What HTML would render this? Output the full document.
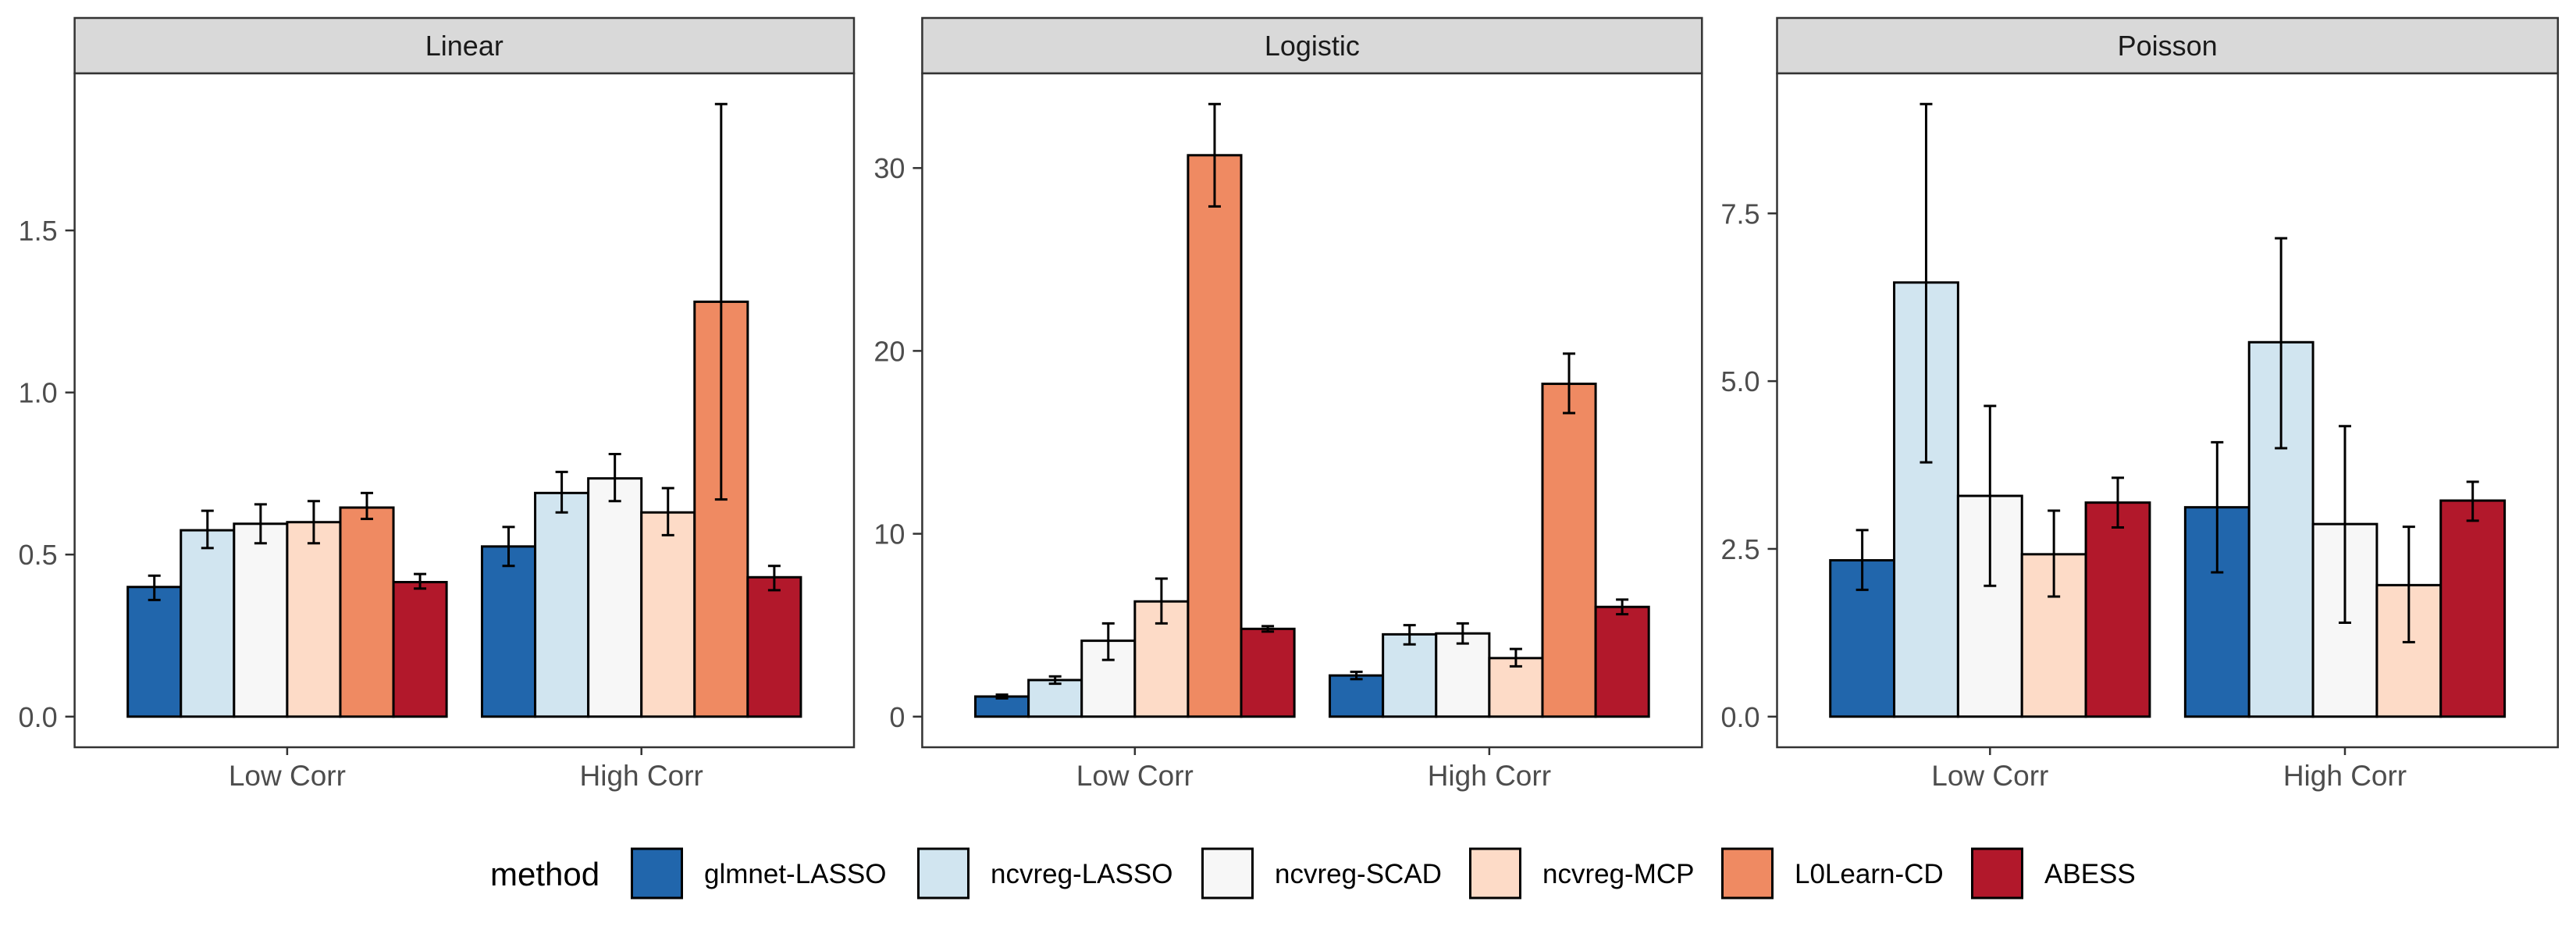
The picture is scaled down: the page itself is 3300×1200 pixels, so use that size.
<!DOCTYPE html>
<html><head><meta charset="utf-8">
<style>
html,body{margin:0;padding:0;background:#fff;}
svg{display:block;font-family:"Liberation Sans",Arial,sans-serif;}
</style></head>
<body>
<svg id="chart" width="3300" height="1200" viewBox="0 0 3300 1200" xmlns="http://www.w3.org/2000/svg"></svg>
<script>
const categories = ["Low Corr", "High Corr"];
const methods = ["glmnet-LASSO","ncvreg-LASSO","ncvreg-SCAD","ncvreg-MCP","L0Learn-CD","ABESS"];
const colors = ["#2166AC","#D1E5F0","#F7F7F7","#FDDBC7","#EF8A62","#B2182B"];

const linearLow = [0.40,0.575,0.595,0.60,0.645,0.415];
const linearLowErr = [[0.36,0.435],[0.52,0.635],[0.535,0.655],[0.535,0.665],[0.61,0.69],[0.395,0.44]];
const linearHigh = [0.525,0.69,0.735,0.63,1.28,0.43];
const linearHighErr = [[0.465,0.585],[0.63,0.755],[0.665,0.81],[0.56,0.705],[0.67,1.89],[0.39,0.465]];
const linearTicks = [0,0.5,1.0,1.5];

const logisticLow = [1.1,2.0,4.15,6.3,30.7,4.8];
const logisticLowErr = [[1.0,1.2],[1.8,2.2],[3.1,5.1],[5.1,7.55],[27.9,33.5],[4.65,4.95]];
const logisticHigh = [2.25,4.5,4.55,3.2,18.2,6.0];
const logisticHighErr = [[2.05,2.45],[3.95,5.0],[4.0,5.1],[2.75,3.7],[16.6,19.85],[5.6,6.4]];
const logisticTicks = [0,10,20,30];

const poissonLow = [2.33,6.47,3.29,2.42,3.19];
const poissonLowErr = [[1.89,2.78],[3.79,9.13],[1.95,4.63],[1.79,3.07],[2.82,3.56]];
const poissonHigh = [3.12,5.58,2.87,1.96,3.22];
const poissonHighErr = [[2.15,4.09],[4.0,7.13],[1.40,4.33],[1.11,2.83],[2.92,3.5]];
const poissonTicks = [0,2.5,5.0,7.5];
const poissonMethodIdx = [0,1,2,3,5];

const NS="http://www.w3.org/2000/svg";
const svg=document.getElementById('chart');
function mk(tag,attrs,parent){const e=document.createElementNS(NS,tag);for(const k in attrs)e.setAttribute(k,attrs[k]);(parent||svg).appendChild(e);return e;}

const panels=[
 {name:"Linear",x0:95.6,x1:1094,low:linearLow,lowErr:linearLowErr,high:linearHigh,highErr:linearHighErr,ticks:linearTicks,fmt:v=>v.toFixed(1),mi:[0,1,2,3,4,5]},
 {name:"Logistic",x0:1181.4,x1:2180.3,low:logisticLow,lowErr:logisticLowErr,high:logisticHigh,highErr:logisticHighErr,ticks:logisticTicks,fmt:v=>String(v),mi:[0,1,2,3,4,5]},
 {name:"Poisson",x0:2276.5,x1:3276.8,low:poissonLow,lowErr:poissonLowErr,high:poissonHigh,highErr:poissonHighErr,ticks:poissonTicks,fmt:v=>v.toFixed(1),mi:poissonMethodIdx}
];
const stripTop=23, stripBot=94, pTop=94, pBot=957;

panels.forEach(p=>{
  const g=mk('g',{});
  
  
  let ymax=0;[p.lowErr,p.highErr].forEach(a=>a.forEach(e=>{ymax=Math.max(ymax,e[1]);}));
  [p.low,p.high].forEach(a=>a.forEach(v=>{ymax=Math.max(ymax,v);}));
  const lo=-0.05*ymax, hi=1.05*ymax;
  const y=v=>pBot-(v-lo)/(hi-lo)*(pBot-pTop);
  const unit=(p.x1-p.x0)/2.2;
  const xc=i=>p.x0+(0.6+i)*unit;
  // strip
  const s=mk('rect',{x:p.x0,y:stripTop,width:p.x1-p.x0,height:stripBot-stripTop,fill:'#d9d9d9',stroke:'#333',"stroke-width":2.5},g);
  
  
  const st=mk('text',{x:(p.x0+p.x1)/2,y:71,"text-anchor":"middle","font-size":36,fill:'#1a1a1a'},g);
  st.textContent=p.name;
  
  
  // panel bg
  mk('rect',{x:p.x0,y:pTop,width:p.x1-p.x0,height:pBot-pTop,fill:'#fff'},g);
  // y ticks
  p.ticks.forEach(t=>{
    mk('line',{x1:p.x0-12,x2:p.x0,y1:y(t),y2:y(t),stroke:'#333',"stroke-width":2.5},g);
    const tl=mk('text',{x:p.x0-22,y:y(t)+13,"text-anchor":"end","font-size":36,fill:'#4d4d4d'},g);
    tl.textContent=p.fmt(t);
    
    
  });
  // bars
  const n=p.low.length, bw=0.9*unit/n;
  [[p.low,p.lowErr],[p.high,p.highErr]].forEach((d,ci)=>{
    const start=xc(ci)-0.45*unit;
    d[0].forEach((v,j)=>{
      const bx=start+j*bw;
      const r=mk('rect',{x:bx,y:y(v),width:bw,height:y(0)-y(v),fill:colors[p.mi[j]],stroke:'#000',"stroke-width":3},g);
      
      
    });
    d[1].forEach((e,j)=>{
      const cx=start+(j+0.5)*bw;
      const eg=mk('g',{stroke:'#000',"stroke-width":3},g);
      
      
      mk('line',{x1:cx,x2:cx,y1:y(e[0]),y2:y(e[1])},eg);
      mk('line',{x1:cx-8,x2:cx+8,y1:y(e[0]),y2:y(e[0])},eg);
      mk('line',{x1:cx-8,x2:cx+8,y1:y(e[1]),y2:y(e[1])},eg);
    });
  });
  // border
  mk('rect',{x:p.x0,y:pTop,width:p.x1-p.x0,height:pBot-pTop,fill:'none',stroke:'#333',"stroke-width":2.5},g);
  // x ticks
  categories.forEach((c,i)=>{
    mk('line',{x1:xc(i),x2:xc(i),y1:pBot,y2:pBot+10,stroke:'#333',"stroke-width":2.5},g);
    const xl=mk('text',{x:xc(i),y:1006,"text-anchor":"middle","font-size":37,fill:'#4d4d4d'},g);
    xl.textContent=c;
    
    
  });
});

// legend
const lg=mk('g',{});


const lt=mk('text',{x:628,y:1134,"font-size":42,fill:'#000'},lg);
lt.textContent='method';


const keyX=[808,1175,1539,1882,2205,2525];
methods.forEach((m,i)=>{
  const eg=mk('g',{},lg);
  
  
  mk('rect',{x:keyX[i]+1.5,y:1087,width:64,height:63,fill:colors[i],stroke:'#000',"stroke-width":3},eg);
  const t=mk('text',{x:keyX[i]+94,y:1131,"font-size":35,fill:'#000'},eg);
  t.textContent=m;
});
</script>
</body></html>
